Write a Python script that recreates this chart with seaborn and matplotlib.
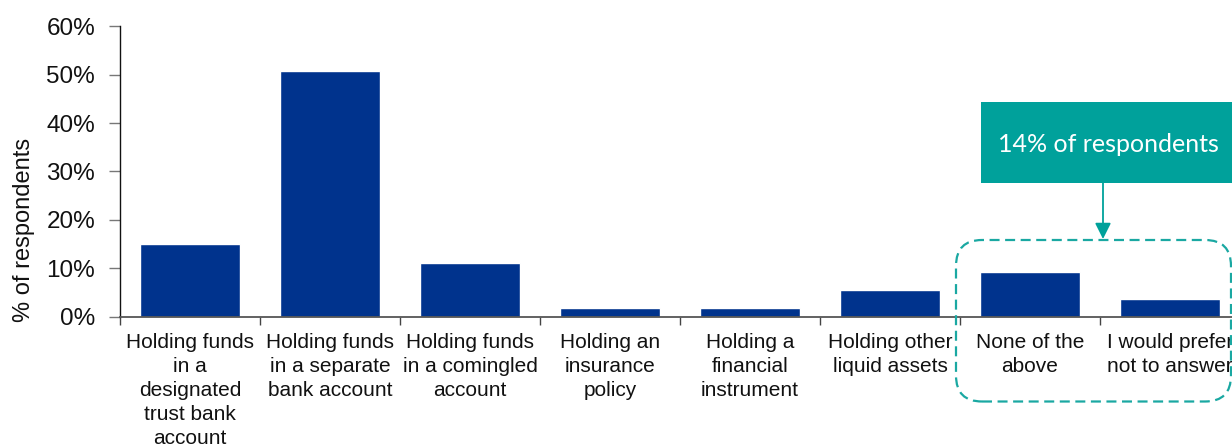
import matplotlib
matplotlib.use("Agg")
import matplotlib.pyplot as plt
from matplotlib.patches import Rectangle, FancyBboxPatch
from matplotlib.ticker import FuncFormatter
import seaborn as sns
import pandas as pd

# Survey responses: how client money is safeguarded
categories = [
    "Holding funds\nin a\ndesignated\ntrust bank\naccount",
    "Holding funds\nin a separate\nbank account",
    "Holding funds\nin a comingled\naccount",
    "Holding an\ninsurance\npolicy",
    "Holding a\nfinancial\ninstrument",
    "Holding other\nliquid assets",
    "None of the\nabove",
    "I would prefer\nnot to answer",
]
share_pct = [15.0, 50.8, 11.1, 1.7, 1.7, 5.5, 9.2, 3.6]
y_ticks = [0, 10, 20, 30, 40, 50, 60]
callout_text = "14% of respondents"

NAVY = "#00338D"
TEAL = "#00A19B"

sns.set_theme(style="white")
plt.rcParams["font.family"] = ["Liberation Sans", "DejaVu Sans"]

df = pd.DataFrame({"category": categories, "share": share_pct})

W, H, DPI = 1232, 448, 100
fig = plt.figure(figsize=(W / DPI, H / DPI), dpi=DPI)
ax = fig.add_axes([120 / W, 131.3 / H, 1120 / W, 290.4 / H])

sns.barplot(data=df, x="category", y="share", color=NAVY, saturation=1,
            width=0.71, ax=ax)

ax.set_xlim(-0.5, len(categories) - 0.5)
ax.set_ylim(0, 60)
ax.set_yticks(y_ticks)
ax.yaxis.set_major_formatter(FuncFormatter(lambda v, _: f"{v:.0f}%"))
ax.set_xlabel("")
ax.set_ylabel("% of respondents", fontsize=17, color="#111111")
ax.yaxis.set_label_coords(-0.076, 0.30)

# Category boundaries carry the x tick marks; labels sit at centres
ax.set_xticks([i - 0.5 for i in range(len(categories) + 1)], minor=False)
ax.set_xticklabels([""] * (len(categories) + 1))
ax.set_xticks(range(len(categories)), minor=True)
ax.set_xticklabels(categories, minor=True, fontsize=15, color="#111111",
                   linespacing=1.33)
ax.tick_params(axis="x", which="minor", length=0, pad=12)
ax.tick_params(axis="x", which="major", length=6, width=1, color="#444444",
               direction="out", bottom=True)
ax.tick_params(axis="y", length=8, width=1, color="#777777", direction="out",
               left=True, pad=10, labelsize=17.5, labelcolor="#111111")

for side in ["top", "right"]:
    ax.spines[side].set_visible(False)
ax.spines["left"].set_color("#111111")
ax.spines["left"].set_linewidth(1.0)
ax.spines["bottom"].set_color("#555555")
ax.spines["bottom"].set_linewidth(1.3)

# Callout box, arrow and dashed group outline (figure pixel units)
px = fig.dpi_scale_trans
s = 1 / DPI
box = Rectangle((981 * s, (H - 183) * s), 270 * s, 81.3 * s, transform=px,
                facecolor=TEAL, edgecolor="none", clip_on=False, zorder=5)
fig.patches.append(box)
fig.text(1108 / W, (H - 144) / H, callout_text, color="white", fontsize=18,
         family=["Lato", "DejaVu Sans"], ha="center", va="center", zorder=6)
ax.annotate("", xy=(1103 * s, (H - 239) * s), xycoords=px,
            xytext=(1103 * s, (H - 183) * s), textcoords=px,
            arrowprops=dict(arrowstyle="-|>,head_length=0.8,head_width=0.4",
                            color=TEAL, lw=1.3, shrinkA=0, shrinkB=0),
            annotation_clip=False)
group = FancyBboxPatch((956 * s, (H - 401.5) * s), 275 * s, 161.5 * s,
                       boxstyle=f"round,pad=0,rounding_size={26 * s}",
                       transform=px, facecolor="none", edgecolor="#1AA8A2",
                       linewidth=1.6, linestyle=(0, (4.5, 2.5)), clip_on=False,
                       zorder=4)
fig.patches.append(group)

fig.savefig("out.png", dpi=DPI, facecolor="white")
